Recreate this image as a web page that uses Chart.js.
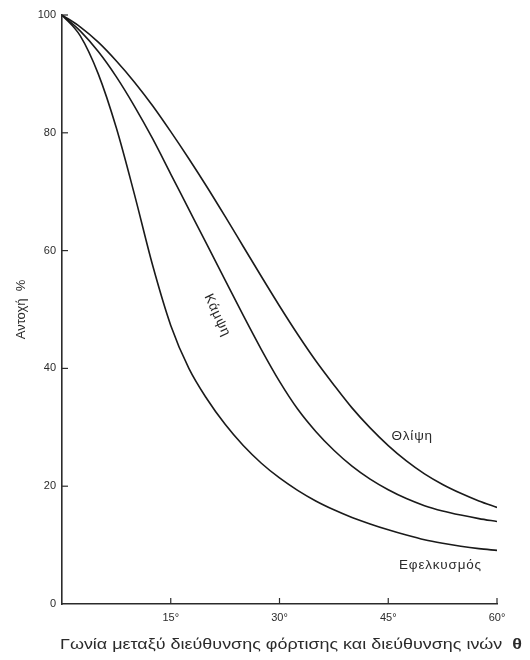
<!DOCTYPE html>
<html>
<head>
<meta charset="utf-8">
<script src="https://cdn.jsdelivr.net/npm/chart.js@4/dist/chart.umd.min.js"></script>
<style>
  html, body { margin: 0; padding: 0; background: #fff; }
  #wrap { width: 530px; height: 660px; }
</style>
</head>
<body>
<div id="wrap"><canvas id="strengthChart" width="530" height="660"></canvas></div>
<script>
// angle between load and fibre direction (degrees)
const angles = [0, 2.5, 5, 7.5, 10, 12.5, 15, 17.5, 20, 22.5, 25, 27.5, 30,
                32.5, 35, 37.5, 40, 42.5, 45, 47.5, 50, 52.5, 55, 57.5, 60];
// strength % for each loading type
const compression = [100, 98, 95.4, 92.2, 88.6, 84.6, 80.2, 75.6, 70.8, 65.8, 60.7, 55.6, 50.6,
                     45.8, 41.3, 37.2, 33.3, 29.9, 26.9, 24.3, 22.1, 20.3, 18.8, 17.5, 16.4];
const bending     = [100, 97.3, 93.8, 89.5, 84.5, 79, 73, 67, 61, 55, 49, 43.2, 37.8,
                     33.1, 29.3, 26.1, 23.4, 21.2, 19.4, 17.9, 16.7, 15.8, 15.1, 14.5, 14];
const tension     = [100, 96.5, 90, 80.8, 69.5, 57.5, 47.3, 40, 34.8, 30.5, 26.9, 23.9, 21.4,
                     19.3, 17.5, 16, 14.7, 13.6, 12.6, 11.7, 10.9, 10.3, 9.8, 9.4, 9.1];

const yTicks = [0, 20, 40, 60, 80, 100];
const xTicks = [0, 15, 30, 45, 60];

const curveLabels = [
    { text: 'Θλίψη', x: 48.3, y: 28.5, rot: 0 },
    { text: 'Κάμψη', x: 21.4, y: 49, rot: 65 },
    { text: 'Εφελκυσμός', x: 52.2, y: 6.6, rot: 0 }
];

const toPoints = vals => angles.map((a, i) => ({ x: a, y: vals[i] }));
const ink = '#2b2b2b';
const font = '"Liberation Sans", Arial, sans-serif';

const lineStyle = {
    borderColor: '#1a1a1a',
    borderWidth: 1.6,
    pointRadius: 0,
    fill: false,
    cubicInterpolationMode: 'monotone'
};

// short tick marks drawn inside the plot, plus curve labels and the x title
const extras = {
    id: 'extras',
    afterDraw(chart) {
        const ctx = chart.ctx;
        const xs = chart.scales.x, ys = chart.scales.y;
        const area = chart.chartArea;
        ctx.save();
        ctx.strokeStyle = ink;
        ctx.lineWidth = 1.2;
        xTicks.forEach(v => {
            if (v === 0) return;
            const px = xs.getPixelForValue(v);
            ctx.beginPath();
            ctx.moveTo(px, area.bottom);
            ctx.lineTo(px, area.bottom - 6);
            ctx.stroke();
        });
        yTicks.forEach(v => {
            if (v === 0) return;
            const py = ys.getPixelForValue(v);
            ctx.beginPath();
            ctx.moveTo(area.left, py);
            ctx.lineTo(area.left + 6, py);
            ctx.stroke();
        });

        ctx.fillStyle = ink;
        ctx.font = '13.5px ' + font;
        ctx.letterSpacing = '0.8px';
        ctx.textAlign = 'center';
        ctx.textBaseline = 'middle';
        curveLabels.forEach(l => {
            ctx.save();
            ctx.translate(xs.getPixelForValue(l.x), ys.getPixelForValue(l.y));
            ctx.rotate(l.rot * Math.PI / 180);
            ctx.fillText(l.text, 0, 0);
            ctx.restore();
        });

        // x axis title with bold theta at the end, stretched like the scan
        const title = 'Γωνία μεταξύ διεύθυνσης φόρτισης και διεύθυνσης ινών  ';
        ctx.letterSpacing = '0px';
        ctx.font = '14px ' + font;
        const w1 = ctx.measureText(title).width;
        ctx.font = 'bold 14px ' + font;
        const w2 = ctx.measureText('θ').width;
        const sx = (522 - 60) / (w1 + w2);
        ctx.translate(60, 645);
        ctx.scale(sx, 1);
        ctx.textAlign = 'left';
        ctx.font = '14px ' + font;
        ctx.fillText(title, 0, 0);
        ctx.font = 'bold 14px ' + font;
        ctx.fillText('θ', w1, 0);
        ctx.restore();
    }
};

new Chart(document.getElementById('strengthChart'), {
    type: 'line',
    data: {
        datasets: [
            { label: 'Θλίψη', data: toPoints(compression), ...lineStyle },
            { label: 'Κάμψη', data: toPoints(bending), ...lineStyle },
            { label: 'Εφελκυσμός', data: toPoints(tension), ...lineStyle }
        ]
    },
    options: {
        responsive: false,
        animation: false,
        layout: { padding: { top: 15, right: 33, left: 0, bottom: 0 } },
        plugins: {
            legend: { display: false },
            tooltip: { enabled: false }
        },
        scales: {
            x: {
                type: 'linear',
                min: 0,
                max: 60,
                afterBuildTicks: s => { s.ticks = xTicks.map(v => ({ value: v })); },
                afterFit: s => { s.height = 56; },
                grid: { drawOnChartArea: false, drawTicks: false },
                border: { color: ink, width: 1.6 },
                ticks: {
                    padding: 7,
                    color: ink,
                    font: { family: font, size: 11 },
                    callback: v => v === 0 ? '' : v + '°'
                }
            },
            y: {
                min: 0,
                max: 100,
                afterBuildTicks: s => { s.ticks = yTicks.map(v => ({ value: v })); },
                afterFit: s => { s.width = 62; },
                grid: { drawOnChartArea: false, drawTicks: false },
                border: { color: ink, width: 1.6 },
                title: {
                    display: true,
                    text: 'Αντοχή  %',
                    color: ink,
                    font: { family: font, size: 13 },
                    padding: { top: 14, bottom: 0 }
                },
                ticks: {
                    padding: 6,
                    color: ink,
                    font: { family: font, size: 11 }
                }
            }
        }
    },
    plugins: [extras]
});
</script>
</body>
</html>
